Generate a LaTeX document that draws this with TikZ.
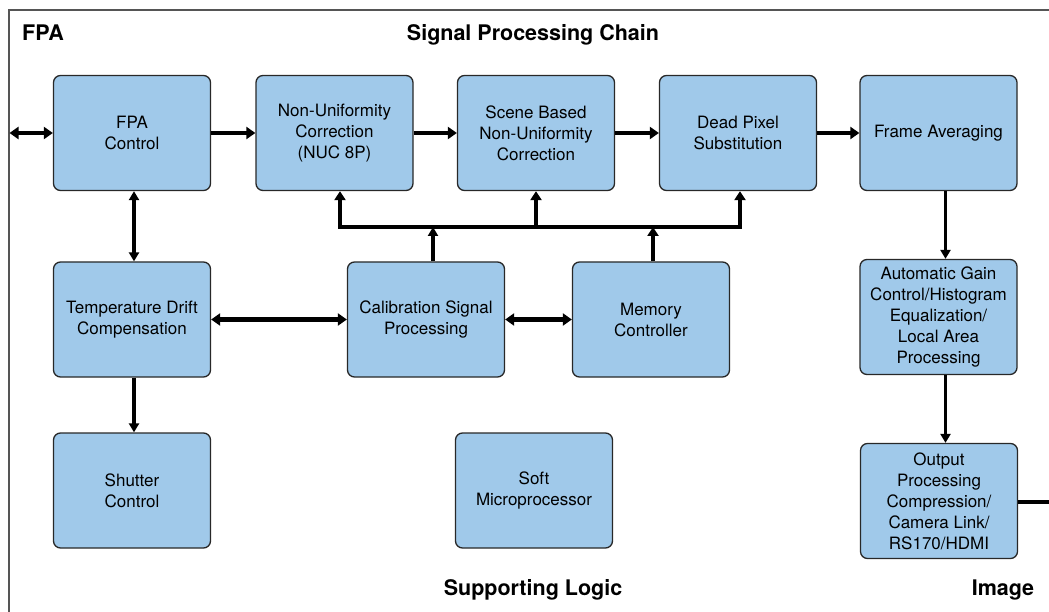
\documentclass[tikz,border=0pt]{standalone}
\usepackage{fontspec}
\setmainfont{TeX Gyre Heros}
\usetikzlibrary{arrows.meta}
\definecolor{boxblue}{RGB}{160,201,234}
\definecolor{frameg}{RGB}{85,85,85}
\definecolor{edgeg}{RGB}{40,40,40}
\begin{document}
\begin{tikzpicture}[x=1pt,y=-1pt,
  block/.style={draw=edgeg, line width=1.3pt, fill=boxblue, rounded corners=7pt,
    minimum width=157pt, minimum height=115pt, align=center, inner sep=2pt,
    font=\fontsize{17}{21}\selectfont},
  title/.style={font=\fontsize{21.5}{24}\selectfont\bfseries, inner sep=0pt},
  hlink/.style={line width=4.5pt, -{Triangle[length=9pt,width=12pt]}},
  hboth/.style={line width=4.5pt, {Triangle[length=9pt,width=12pt]}-{Triangle[length=9pt,width=12pt]}},
  vlink/.style={line width=3.5pt, -{Triangle[length=9pt,width=10pt]}},
  vboth/.style={line width=3.5pt, {Triangle[length=9pt,width=10pt]}-{Triangle[length=9pt,width=10pt]}},
  buslink/.style={line width=4pt, line join=miter, -{Triangle[length=9pt,width=11pt]}}
]
\useasboundingbox (0,0) rectangle (1049,612);

% outer frame (open to the right and bottom)
\draw[frameg, line width=2pt] (8.5,612) -- (8.5,10) -- (1049,10);

% section titles
\node[title, anchor=base west] (tFPA) at (22,40.5) {FPA};
\node[title, anchor=base] (tChain) at (533,40.5) {Signal Processing Chain};
\node[title, anchor=base] (tSupport) at (533,595) {Supporting Logic};
\node[title, anchor=base] (tImage) at (1003,595) {Image};

% processing blocks
\node[block] (fpa)  at (132,133)   {FPA\\Control};
\node[block] (nuc)  at (334.5,133) {Non-Uniformity\\Correction\\(NUC 8P)};
\node[block] (sb)   at (536,133)   {Scene Based\\Non-Uniformity\\Correction};
\node[block] (dps)  at (738,133)   {Dead Pixel\\Substitution};
\node[block] (fa)   at (938.5,133) {Frame Averaging};
\node[block] (temp) at (132,319.5) {Temperature Drift\\Compensation};
\node[block] (cal)  at (426,319.5) {Calibration Signal\\Processing};
\node[block] (mem)  at (651,319.5) {Memory\\Controller};
\node[block] (agc)  at (938.5,317) {Automatic Gain\\Control/Histogram\\Equalization/\\Local Area\\Processing};
\node[block] (shut) at (132,490.5) {Shutter\\Control};
\node[block] (soft) at (534,490.5) {Soft\\Microprocessor};
\node[block] (out)  at (939,501)   {Output\\Processing\\Compression/\\Camera Link/\\RS170/HDMI};

% connector end points
\coordinate (fpaIn) at (9.5,133);
\coordinate (imgOut) at (1049,502);
\coordinate (busL) at (340,227);
\coordinate (busR) at (740,227);

% main chain
\draw[hboth] (fpaIn) -- (fpa.west);
\draw[hlink] (fpa.east) -- (nuc.west);
\draw[hlink] (nuc.east) -- (sb.west);
\draw[hlink] (sb.east) -- (dps.west);
\draw[hlink] (dps.east) -- (fa.west);

% calibration / memory bus
\draw[buslink] (busR) -- (busL) -- (busL |- nuc.south);
\draw[buslink] (busL) -- (busR) -- (busR |- dps.south);
\draw[buslink] (sb.south |- busL) -- (sb.south);
\draw[vlink] ([xshift=7pt]cal.north) -- ([xshift=7pt]cal.north |- busL);
\draw[buslink, line width=4.5pt] ([xshift=2pt]mem.north) -- ([xshift=2pt]mem.north |- busL);

% supporting links
\draw[vboth] ([xshift=2pt]fpa.south) -- ([xshift=2pt]temp.north);
\draw[hboth] (temp.east) -- (cal.west);
\draw[hboth] (cal.east) -- (mem.west);
\draw[vlink] ([xshift=2pt]temp.south) -- ([xshift=2pt]shut.north);

% image output path
\draw[vlink] ([xshift=7pt]fa.south) -- ([xshift=7pt]fa.south |- agc.north);
\draw[vlink] ([xshift=7pt]agc.south) -- ([xshift=7pt]agc.south |- out.north);
\draw[line width=4.5pt] (out.east |- imgOut) -- (imgOut);
\end{tikzpicture}
\end{document}
